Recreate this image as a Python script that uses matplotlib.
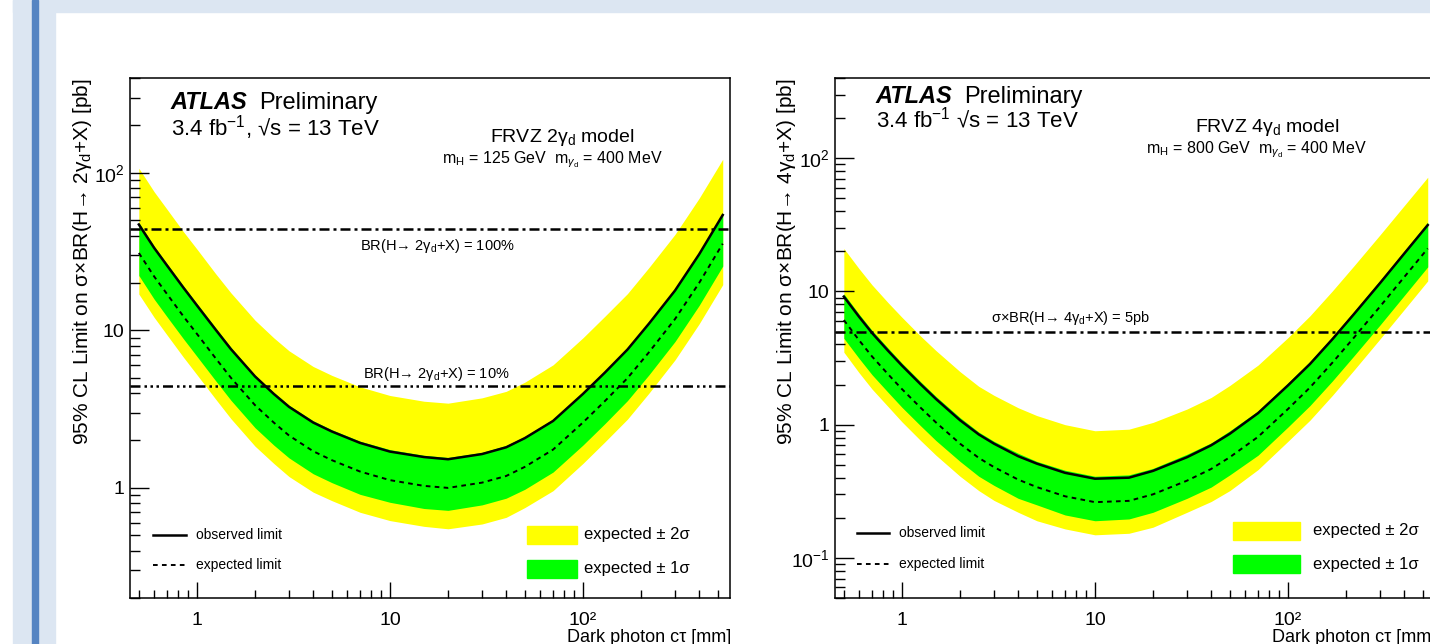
import numpy as np
import matplotlib
matplotlib.use('Agg')
import matplotlib.pyplot as plt
from matplotlib.patches import Rectangle
from matplotlib.lines import Line2D
from matplotlib.ticker import FixedLocator, FixedFormatter, LogLocator, NullFormatter

plt.rcParams['font.family'] = ['Liberation Sans', 'DejaVu Sans']
plt.rcParams['mathtext.fontset'] = 'custom'
plt.rcParams['mathtext.rm'] = 'Liberation Sans'
plt.rcParams['mathtext.it'] = 'Liberation Sans:italic'
plt.rcParams['mathtext.bf'] = 'Liberation Sans:bold'

# dark photon c*tau [mm]
ctau = [0.5, 0.6, 0.7, 0.85, 1, 1.25, 1.5, 2, 2.5, 3, 4, 5, 7, 10, 15, 20,
        30, 40, 50, 70, 100, 130, 170, 220, 300, 400, 530]

# FRVZ 2 gamma_d model, mH = 125 GeV  [pb]
obs_2gd = [47, 33.4, 25.8, 18.7, 14.4, 10.1, 7.6, 5.1, 3.95, 3.27, 2.6, 2.28, 1.93, 1.7, 1.57, 1.52,
           1.64, 1.81, 2.07, 2.66, 3.95, 5.4, 7.55, 11.05, 17.9, 30.4, 54]
exp_2gd = [31, 22, 17, 12.3, 9.5, 6.65, 5.0, 3.35, 2.6, 2.15, 1.71, 1.5, 1.27, 1.12, 1.03, 1.0,
           1.08, 1.19, 1.36, 1.75, 2.6, 3.56, 4.97, 7.27, 11.8, 20, 35.5]
p1s_2gd = [48.4, 34.3, 26.5, 19.2, 14.8, 10.4, 7.8, 5.2, 4.05, 3.35, 2.67, 2.34, 1.98, 1.75, 1.61, 1.56,
           1.68, 1.86, 2.12, 2.73, 4.06, 5.55, 7.75, 11.3, 18.4, 31.2, 55.4]
m1s_2gd = [22.3, 15.8, 12.2, 8.86, 6.84, 4.79, 3.6, 2.41, 1.87, 1.55, 1.23, 1.08, 0.91, 0.81, 0.74, 0.72,
           0.78, 0.86, 0.98, 1.26, 1.87, 2.56, 3.58, 5.23, 8.5, 14.4, 25.6]
p2s_2gd = [107, 75.9, 58.7, 42.4, 32.8, 22.9, 17.3, 11.6, 8.97, 7.42, 5.9, 5.18, 4.38, 3.86, 3.55, 3.45,
           3.73, 4.1, 4.69, 6.04, 8.97, 12.3, 17.1, 25.1, 40.7, 69, 122]
m2s_2gd = [17, 12.1, 9.35, 6.77, 5.23, 3.66, 2.75, 1.84, 1.43, 1.18, 0.94, 0.83, 0.70, 0.62, 0.57, 0.55,
           0.59, 0.65, 0.75, 0.96, 1.43, 1.96, 2.73, 4.0, 6.5, 11, 19.5]
br100_2gd = 44.1
br10_2gd = 4.41

# FRVZ 4 gamma_d model, mH = 800 GeV  [pb]
obs_4gd = [9.15, 6.45, 4.88, 3.57, 2.78, 2.01, 1.56, 1.08, 0.845, 0.72, 0.58, 0.51, 0.435, 0.393, 0.40, 0.45,
           0.57, 0.70, 0.855, 1.22, 1.97, 2.85, 4.38, 6.77, 11.55, 19.2, 31.5]
exp_4gd = [6.1, 4.3, 3.25, 2.38, 1.85, 1.34, 1.04, 0.72, 0.563, 0.48, 0.387, 0.34, 0.29, 0.262, 0.268, 0.30,
           0.38, 0.465, 0.57, 0.81, 1.31, 1.9, 2.92, 4.51, 7.7, 12.8, 21]
p1s_4gd = [9.6, 6.75, 5.1, 3.74, 2.9, 2.1, 1.63, 1.13, 0.88, 0.75, 0.61, 0.53, 0.455, 0.41, 0.42, 0.47,
           0.6, 0.73, 0.9, 1.27, 2.06, 2.98, 4.58, 7.08, 12.1, 20.1, 33]
m1s_4gd = [4.45, 3.14, 2.37, 1.74, 1.35, 0.98, 0.76, 0.53, 0.41, 0.35, 0.28, 0.25, 0.21, 0.19, 0.196, 0.22,
           0.28, 0.34, 0.42, 0.59, 0.96, 1.39, 2.13, 3.29, 5.6, 9.3, 15.3]
p2s_4gd = [21, 14.8, 11.2, 8.2, 6.4, 4.62, 3.6, 2.5, 1.94, 1.66, 1.34, 1.17, 1.0, 0.9, 0.925, 1.04,
           1.31, 1.6, 1.97, 2.8, 4.5, 6.56, 10.1, 15.6, 26.6, 44, 72]
m2s_4gd = [3.5, 2.45, 1.85, 1.36, 1.05, 0.76, 0.59, 0.41, 0.32, 0.27, 0.22, 0.19, 0.165, 0.149, 0.153, 0.17,
           0.22, 0.265, 0.32, 0.46, 0.75, 1.08, 1.66, 2.57, 4.4, 7.3, 12]
xs_4gd = 5.0

W, H = 1430, 644
def fx(x):
    return x / W
def fy(y):
    return 1 - y / H

YELLOW = '#ffff00'
GREEN = '#00ff00'
dashdot = (0, (4, 1.6, 1.2, 1.6))
dashdots = (0, (4, 1.6, 1.0, 1.4, 1.0, 1.4, 1.0, 1.6))
dashed = (0, (2.4, 2.2))

fig = plt.figure(figsize=(W / 100, H / 100), dpi=100)

# slide background
fig.patches.append(Rectangle((fx(13), 0), fx(42), 1, transform=fig.transFigure, color='#dce6f2', zorder=-10))
fig.patches.append(Rectangle((fx(13), fy(12)), 1, 12 / H, transform=fig.transFigure, color='#dce6f2', zorder=-10))
fig.patches.append(Rectangle((fx(32), 0), fx(6), 1, transform=fig.transFigure, color='#5584c2', zorder=-9))


def setup_axes(ax, ylim, yticks, ylabels):
    ax.set_xscale('log')
    ax.set_yscale('log')
    ax.set_xlim(0.45, 578)
    ax.set_ylim(*ylim)
    ax.xaxis.set_major_locator(FixedLocator([1, 10, 100]))
    ax.xaxis.set_major_formatter(FixedFormatter(['1', '10', '10²']))
    ax.xaxis.set_minor_locator(LogLocator(base=10, subs=np.arange(2, 10), numticks=20))
    ax.xaxis.set_minor_formatter(NullFormatter())
    ax.yaxis.set_major_locator(FixedLocator(yticks))
    ax.yaxis.set_major_formatter(FixedFormatter(ylabels))
    ax.yaxis.set_minor_locator(LogLocator(base=10, subs=np.arange(2, 10), numticks=20))
    ax.yaxis.set_minor_formatter(NullFormatter())
    ax.tick_params(which='both', direction='in', top=False, right=False, labelsize=14, width=1.0)
    ax.tick_params(axis='x', which='major', length=11.5, pad=10)
    ax.tick_params(axis='x', which='minor', length=5.8)
    ax.tick_params(axis='y', which='major', length=13.7, pad=4)
    ax.tick_params(axis='y', which='minor', length=7.2)
    for s in ax.spines.values():
        s.set_linewidth(1.1)


def draw_limits(ax, obs, exp, p1, m1, p2, m2):
    ax.fill_between(ctau, m2, p2, color=YELLOW, lw=0, zorder=1)
    ax.fill_between(ctau, m1, p1, color=GREEN, lw=0, zorder=2)
    ax.plot(ctau, exp, color='black', lw=1.4, linestyle=dashed, zorder=3)
    ax.plot(ctau, obs, color='black', lw=1.8, zorder=4)


# left: 2 gamma_d
ax1 = fig.add_axes([fx(130), fy(598), 600 / W, 520 / H])
setup_axes(ax1, (0.2, 400), [1, 10, 100], ['1', '10', '$10^{2}$'])
draw_limits(ax1, obs_2gd, exp_2gd, p1s_2gd, m1s_2gd, p2s_2gd, m2s_2gd)
ax1.axhline(br100_2gd, color='black', lw=1.8, linestyle=dashdot, zorder=5)
ax1.axhline(br10_2gd, color='black', lw=1.8, linestyle=dashdots, zorder=5)

# right: 4 gamma_d
ax2 = fig.add_axes([fx(835), fy(598), 600 / W, 520 / H])
setup_axes(ax2, (0.05, 400), [0.1, 1, 10, 100], ['$10^{-1}$', '1', '10', '$10^{2}$'])
draw_limits(ax2, obs_4gd, exp_4gd, p1s_4gd, m1s_4gd, p2s_4gd, m2s_4gd)
ax2.axhline(xs_4gd, color='black', lw=1.8, linestyle=dashdot, zorder=5)

# axis titles
fig.text(fx(83), fy(78), r'95% CL Limit on σ×BR(H→ 2γ$_{\mathrm{d}}$+X) [pb]', rotation=90,
         ha='center', va='top', fontsize=15)
fig.text(fx(787), fy(78), r'95% CL Limit on σ×BR(H→ 4γ$_{\mathrm{d}}$+X) [pb]', rotation=90,
         ha='center', va='top', fontsize=15)
fig.text(fx(731), fy(629), 'Dark photon cτ [mm]', ha='right', va='top', fontsize=13)
fig.text(fx(1436), fy(629), 'Dark photon cτ [mm]', ha='right', va='top', fontsize=13)

# ATLAS labels
fig.text(fx(170), fy(109), 'ATLAS', fontsize=17, weight='bold', style='italic', va='baseline')
fig.text(fx(259), fy(109), 'Preliminary', fontsize=17, va='baseline')
fig.text(fx(171), fy(136), '3.4 fb$^{-1}$, √s = 13 TeV', fontsize=16, va='baseline')
fig.text(fx(875), fy(103), 'ATLAS', fontsize=17, weight='bold', style='italic', va='baseline')
fig.text(fx(964), fy(103), 'Preliminary', fontsize=17, va='baseline')
fig.text(fx(876), fy(127), '3.4 fb$^{-1}$ √s = 13 TeV', fontsize=16, va='baseline')

# model labels
fig.text(fx(562), fy(142), r'FRVZ 2γ$_{\mathrm{d}}$ model', fontsize=14, ha='center', va='baseline')
fig.text(fx(552), fy(163), r'm$_{\mathrm{H}}$ = 125 GeV  m$_{γ_{\mathrm{d}}}$ = 400 MeV', fontsize=11.5,
         ha='center', va='baseline')
fig.text(fx(1267), fy(132), r'FRVZ 4γ$_{\mathrm{d}}$ model', fontsize=14, ha='center', va='baseline')
fig.text(fx(1256), fy(153), r'm$_{\mathrm{H}}$ = 800 GeV  m$_{γ_{\mathrm{d}}}$ = 400 MeV', fontsize=11.5,
         ha='center', va='baseline')

# reference line labels
fig.text(fx(437), fy(250), r'BR(H→ 2γ$_{\mathrm{d}}$+X) = 100%', fontsize=10.5, ha='center', va='baseline')
fig.text(fx(436), fy(378), r'BR(H→ 2γ$_{\mathrm{d}}$+X) = 10%', fontsize=10.5, ha='center', va='baseline')
fig.text(fx(1071), fy(322), r'σ×BR(H→ 4γ$_{\mathrm{d}}$+X) = 5pb', fontsize=10.5, ha='center', va='baseline')

# legends
def legend(xl0, xl1, xt, y_obs, y_exp, xb0, xb1, xbt, yb2, yb1, bh):
    fig.add_artist(Line2D([fx(xl0), fx(xl1)], [fy(y_obs)] * 2, color='black', lw=1.8))
    fig.add_artist(Line2D([fx(xl0), fx(xl1)], [fy(y_exp)] * 2, color='black', lw=1.4, linestyle=dashed))
    fig.text(fx(xt), fy(y_obs), 'observed limit', fontsize=10, va='center')
    fig.text(fx(xt), fy(y_exp), 'expected limit', fontsize=10, va='center')
    fig.patches.append(Rectangle((fx(xb0), fy(yb2 + bh / 2)), (xb1 - xb0) / W, bh / H,
                                 transform=fig.transFigure, color=YELLOW, zorder=5))
    fig.patches.append(Rectangle((fx(xb0), fy(yb1 + bh / 2)), (xb1 - xb0) / W, bh / H,
                                 transform=fig.transFigure, color=GREEN, zorder=5))
    fig.text(fx(xbt), fy(yb2), 'expected ± 2σ', fontsize=12, va='center')
    fig.text(fx(xbt), fy(yb1), 'expected ± 1σ', fontsize=12, va='center')

legend(153, 186, 196, 535, 565, 527, 577, 584, 535, 569, 18)
legend(857, 889, 899, 533, 564, 1233, 1300, 1313, 531, 564, 18)

fig.savefig('out.png', dpi=100)
